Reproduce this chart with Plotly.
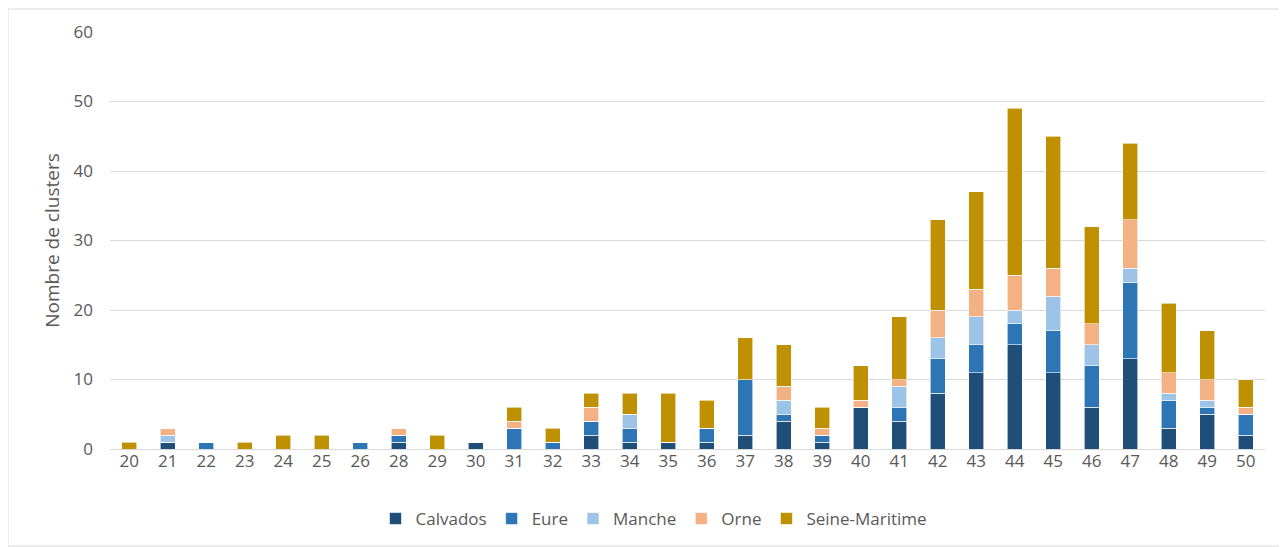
import plotly.graph_objects as go

categories = ["20","21","22","23","24","25","26","28","29","30","31","32","33","34","35",
              "36","37","38","39","40","41","42","43","44","45","46","47","48","49","50"]
calvados = [0,1,0,0,0,0,0,1,0,1,0,0,2,1,1,1,2,4,1,6,4,8,11,15,11,6,13,3,5,2]
eure     = [0,0,1,0,0,0,1,1,0,0,3,1,2,2,0,2,8,1,1,0,2,5,4,3,6,6,11,4,1,3]
manche   = [0,1,0,0,0,0,0,0,0,0,0,0,0,2,0,0,0,2,0,0,3,3,4,2,5,3,2,1,1,0]
orne     = [0,1,0,0,0,0,0,1,0,0,1,0,2,0,0,0,0,2,1,1,1,4,4,5,4,3,7,3,3,1]
seine    = [1,0,0,1,2,2,0,0,2,0,2,2,2,3,7,4,6,6,3,5,9,13,14,24,19,14,11,10,7,4]
y_ticks = [0,10,20,30,40,50,60]

series = [
    ("Calvados", calvados, "#1F4E79"),
    ("Eure", eure, "#2E75B6"),
    ("Manche", manche, "#9DC3E6"),
    ("Orne", orne, "#F4B183"),
    ("Seine-Maritime", seine, "#BF9000"),
]

fig = go.Figure()
for name, vals, color in series:
    fig.add_trace(go.Bar(
        x=categories, y=vals, name=name,
        marker=dict(color=color, line=dict(color="white", width=0.6)),
    ))

# page body has an 8px margin: compensate so the plot lands where the reference has it
W, H = 1279, 539
L, T, B = 102, 24, 98
R = W - L - 1155
PH = H - T - B

font_family = "Open Sans, Liberation Sans, sans-serif"
fig.update_layout(
    barmode="stack",
    bargap=0.6,
    width=W, height=H,
    margin=dict(l=L, r=R, t=T, b=B, autoexpand=False),
    paper_bgcolor="white",
    plot_bgcolor="white",
    font=dict(family=font_family, size=17, color="#595959"),
    xaxis=dict(type="category", tickfont=dict(size=17, color="#595959"),
               showgrid=False, ticks="", showline=False, tickangle=0),
    yaxis=dict(range=[0, 60], tickvals=y_ticks, showgrid=True, gridcolor="#D9D9D9",
               gridwidth=1, zeroline=True, zerolinecolor="#D9D9D9", zerolinewidth=1,
               tickfont=dict(size=17, color="#595959"), ticklabelstandoff=16,
               title=dict(text="Nombre de clusters", font=dict(size=19, color="#595959"),
                          standoff=8)),
    legend=dict(orientation="h", x=(646 - L) / 1155, xanchor="center", y=-70 / PH,
                yanchor="middle", font=dict(size=17, color="#595959"), itemwidth=30,
                traceorder="normal", bgcolor="rgba(0,0,0,0)"),
    shapes=[dict(type="rect", xref="paper", yref="paper",
                 x0=-L / 1155, x1=(W - L - 1) / 1155, y0=-(B - 1) / PH, y1=1 + (T - 1) / PH,
                 line=dict(color="#D9D9D9", width=1), fillcolor="rgba(0,0,0,0)", layer="below")],
)

fig.write_html("out.html")
